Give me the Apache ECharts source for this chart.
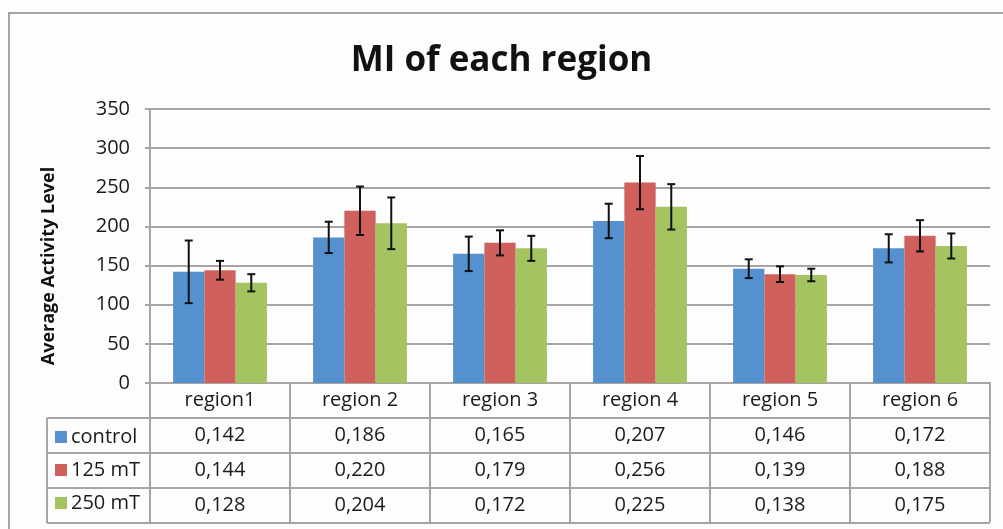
<!DOCTYPE html>
<html>
<head>
<meta charset="utf-8">
<script src="https://cdn.jsdelivr.net/npm/echarts@6/dist/echarts.min.js"></script>
<style>
  html, body { margin: 0; padding: 0; background: #fff; }
  #main { width: 1003px; height: 529px; }
</style>
</head>
<body>
<div id="main"></div>
<script>
// data
var regions = ['region1', 'region 2', 'region 3', 'region 4', 'region 5', 'region 6'];
var seriesNames = ['control', '125 mT', '250 mT'];
var control = [142, 186, 165, 207, 146, 172];
var mt125 = [144, 220, 179, 256, 139, 188];
var mt250 = [128, 204, 172, 225, 138, 175];
// error bar half lengths
var errControl = [40, 20, 22, 22, 12, 18];
var err125 = [12, 31, 16, 34, 10, 20];
var err250 = [11, 33, 16, 29, 8, 16];
var yTicks = [0, 50, 100, 150, 200, 250, 300, 350];

var colors = ['#5591cf', '#d0605b', '#a3c461'];
var gridCol = '#a9a4a4';
var values = [control, mt125, mt250];
var errors = [errControl, err125, err250];

// table texts: values shown as 0,xxx
function fmt(v) { return (v / 1000).toFixed(3).replace('.', ','); }

var GL = 150, GR = 13, GT = 109, GB = 146, ROW = 35;
var catGap = 0.33;
var FS = 20;

var chartDom = document.getElementById('main');
var myChart = echarts.init(chartDom);

var series = [];
var xAxes = [{
  type: 'category',
  data: regions,
  position: 'bottom',
  axisLine: { lineStyle: { color: gridCol, width: 2 } },
  axisTick: { show: true, length: ROW * 4 - 1, lineStyle: { color: gridCol, width: 2 } },
  axisLabel: { color: '#1a1a1a', fontSize: FS, fontFamily: 'Open Sans', margin: 7 }
}];

for (var i = 0; i < 3; i++) {
  series.push({
    name: seriesNames[i],
    type: 'bar',
    data: values[i],
    barGap: 0,
    barCategoryGap: (catGap * 100) + '%',
    itemStyle: { color: colors[i] },
    z: 2
  });
  // table row for this series
  xAxes.push({
    type: 'category',
    data: values[i].map(fmt),
    position: 'bottom',
    offset: ROW * (i + 1),
    axisLine: { show: false },
    axisTick: { show: false },
    axisLabel: { color: '#1a1a1a', fontSize: FS, fontFamily: 'Open Sans', margin: 7 }
  });
}

// error bars
for (var s = 0; s < 3; s++) {
  (function (s) {
    series.push({
      type: 'custom',
      name: seriesNames[s] + ' err',
      data: values[s].map(function (v, k) { return [k, v - errors[s][k], v + errors[s][k]]; }),
      encode: { x: 0, y: [1, 2] },
      z: 5,
      renderItem: function (params, api) {
        var k = api.value(0);
        var lo = api.coord([k, api.value(1)]);
        var hi = api.coord([k, api.value(2)]);
        var band = api.size([1, 0])[0];
        var bw = band * (1 - catGap) / 3;
        var x = lo[0] + (s - 1) * bw;
        var cap = 4;
        var st = { stroke: '#111', lineWidth: 2 };
        return {
          type: 'group',
          children: [
            { type: 'line', shape: { x1: x, y1: lo[1], x2: x, y2: hi[1] }, style: st },
            { type: 'line', shape: { x1: x - cap, y1: lo[1], x2: x + cap, y2: lo[1] }, style: st },
            { type: 'line', shape: { x1: x - cap, y1: hi[1], x2: x + cap, y2: hi[1] }, style: st }
          ]
        };
      }
    });
  })(s);
}

var tableTop = 529 - GB;
var tableLeft = 47;
var tableRight = 1003 - GR;
var lines = [];
for (var r = 1; r <= 4; r++) {
  lines.push({
    type: 'line',
    shape: { x1: tableLeft, y1: tableTop + ROW * r, x2: tableRight, y2: tableTop + ROW * r },
    style: { stroke: gridCol, lineWidth: 2 }
  });
}
lines.push({
  type: 'line',
  shape: { x1: tableLeft, y1: tableTop + ROW, x2: tableLeft, y2: tableTop + ROW * 4 },
  style: { stroke: gridCol, lineWidth: 2 }
});
// outer chart frame
lines.push({
  type: 'polyline',
  shape: { points: [[9, 529], [9, 13], [1003, 13]] },
  style: { stroke: '#a8a3a3', lineWidth: 2, fill: null }
});

var option = {
  backgroundColor: '#fdfdfd',
  animation: false,
  title: {
    text: 'MI of each region',
    left: 'center',
    top: 39,
    textStyle: { fontSize: 35, fontWeight: 'bold', color: '#111', fontFamily: 'Open Sans' }
  },
  legend: {
    data: seriesNames,
    orient: 'vertical',
    left: 50,
    top: tableTop + ROW + 4,
    itemWidth: 12,
    itemHeight: 12,
    itemGap: 13,
    icon: 'rect',
    textStyle: { fontSize: FS, color: '#1a1a1a', fontFamily: 'Open Sans', padding: [0, 0, 0, -1] }
  },
  grid: { left: GL, right: GR, top: GT, bottom: GB, containLabel: false },
  xAxis: xAxes,
  yAxis: {
    type: 'value',
    min: yTicks[0],
    max: yTicks[yTicks.length - 1],
    interval: 50,
    name: 'Average Activity Level',
    nameLocation: 'middle',
    nameGap: 92,
    nameTextStyle: { fontSize: 18, fontWeight: 'bold', color: '#111', fontFamily: 'Open Sans', padding: [0, 40, 0, 0] },
    axisLine: { show: true, lineStyle: { color: gridCol, width: 2 } },
    axisTick: { show: true, length: 5, lineStyle: { color: gridCol, width: 2 } },
    axisLabel: { fontSize: FS, color: '#1a1a1a', fontFamily: 'Open Sans', margin: 20 },
    splitLine: { lineStyle: { color: gridCol, width: 2 } }
  },
  graphic: lines,
  series: series
};

myChart.setOption(option);
</script>
</body>
</html>
